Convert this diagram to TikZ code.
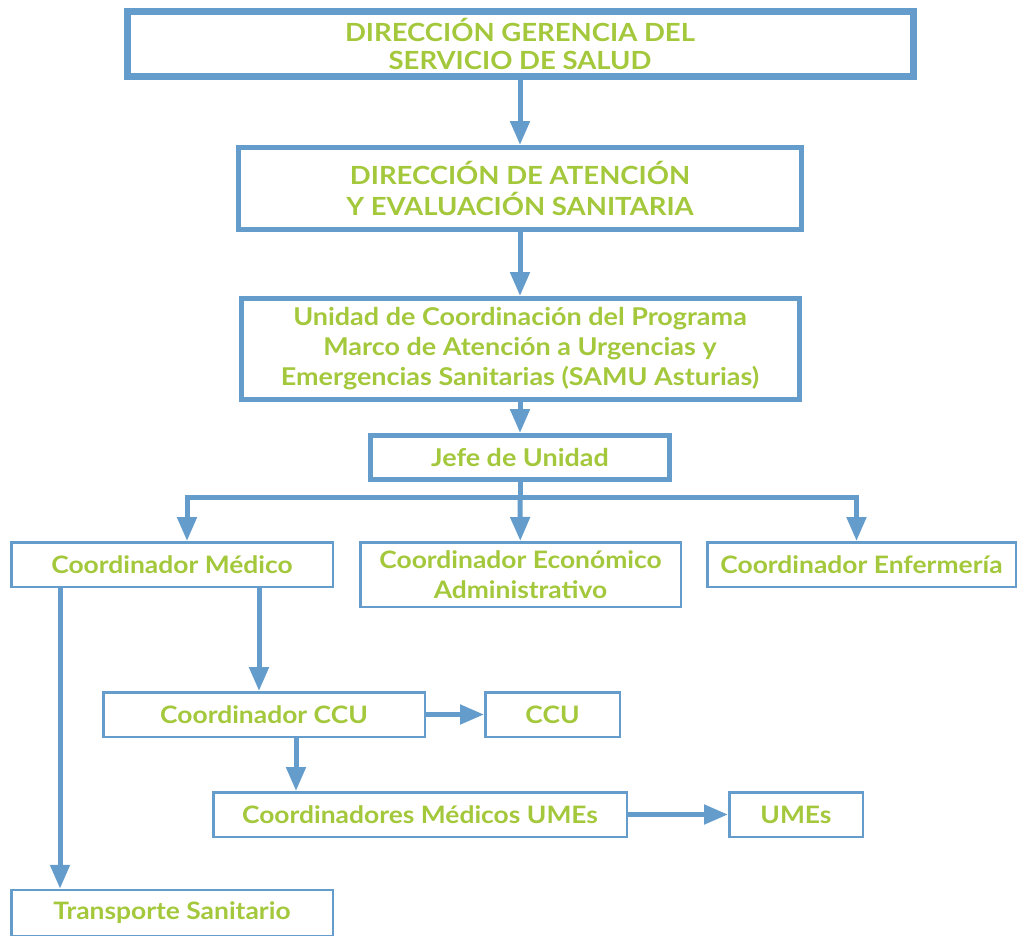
\documentclass[tikz,border=0pt]{standalone}
\usepackage{fontspec}
\setmainfont{Lato}[FakeStretch=1.1]
\usetikzlibrary{arrows.meta}
\definecolor{samublue}{HTML}{649CCB}
\definecolor{samugreen}{HTML}{A4C83C}

\begin{document}
\begin{tikzpicture}[x=1pt,y=-1pt,>={Triangle[length=24pt,width=19pt]},
 box/.style={draw=samublue,line width=2.5pt,fill=white,align=center,inner sep=0pt,
 text=samugreen,font=\fontsize{24}{30}\selectfont\bfseries},
 bigbox/.style={box,line width=5pt,font=\fontsize{24.5}{30}\selectfont\bfseries},
 link/.style={->,draw=samublue,line width=5pt}]
\useasboundingbox (0,0) rectangle (1018,935);
\node[bigbox,line width=7pt,minimum width=786pt,minimum height=65pt,
 font=\fontsize{25}{28}\selectfont\bfseries] (gerencia) at (520,43.5)
 {DIRECCIÓN GERENCIA DEL\\SERVICIO DE SALUD};
\node[bigbox,minimum width=563pt,minimum height=82pt,
 font=\fontsize{25}{31}\selectfont\bfseries] (atencion) at (520,188.5)
 {DIRECCIÓN DE ATENCIÓN\\Y EVALUACIÓN SANITARIA};
\node[bigbox,minimum width=558pt,minimum height=101pt] (unidad) at (520,349)
 {Unidad de Coordinación del Programa\\Marco de Atención a Urgencias y\\Emergencias Sanitarias (SAMU Asturias)};
\node[bigbox,minimum width=299pt,minimum height=44pt] (jefe) at (520,457.5) {Jefe de Unidad};
\node[box,minimum width=321.5pt,minimum height=44.5pt] (cmed) at (172,564.5) {Coordinador Médico};
\node[box,minimum width=320.5pt,minimum height=64.5pt] (ceco) at (520.5,574.5)
 {Coordinador Económico\\Administrativo};
\node[box,minimum width=308.5pt,minimum height=44.5pt] (cenf) at (861.5,564.5) {Coordinador Enfermería};
\node[box,minimum width=321.5pt,minimum height=44.5pt] (cccu) at (264,714.5) {Coordinador CCU};
\node[box,minimum width=134.5pt,minimum height=44.5pt] (ccu) at (552.5,714.5) {CCU};
\node[box,minimum width=413.5pt,minimum height=44.5pt] (cumes) at (420,814.5) {Coordinadores Médicos UMEs};
\node[box,minimum width=133.5pt,minimum height=44.5pt] (umes) at (796,814.5) {UMEs};
\node[box,minimum width=321.5pt,minimum height=46pt] (transporte) at (172,913) {Transporte Sanitario};
\coordinate (bus) at (520,497);

\foreach \a/\b in {gerencia/atencion,atencion/unidad,unidad/jefe,cccu/ccu,cumes/umes}
  \draw[link] (\a)--(\b);
\draw[link,-] (jefe)--(bus);
\draw[link] (bus) -| ([xshift=15pt]cmed.north);
\draw[link] (bus) -- (ceco);
\draw[link] (bus) -| ([xshift=-5pt]cenf.north);
\draw[link] ([xshift=-112pt]cmed.south) -- ([xshift=-112pt]transporte.north);
\draw[link] ([xshift=87pt]cmed.south) -- ([xshift=87pt]cmed.south |- cccu.north);
\draw[link] ([xshift=32pt]cccu.south) -- ([xshift=32pt]cccu.south |- cumes.north);
\end{tikzpicture}
\end{document}
